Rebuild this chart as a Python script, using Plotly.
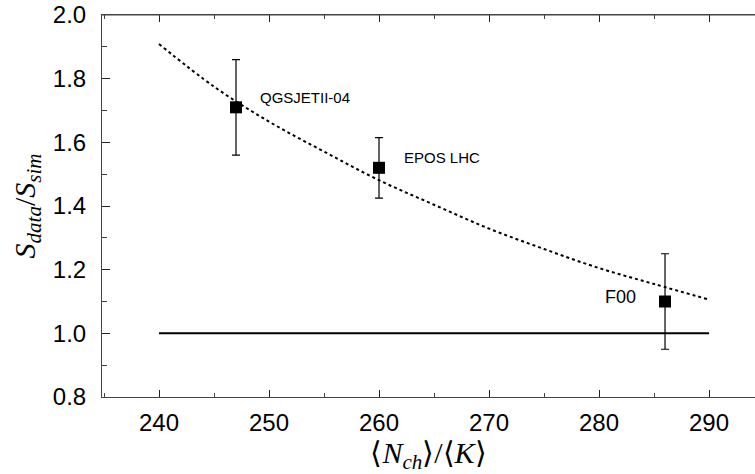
import plotly.graph_objects as go

# Data points
models = ["QGSJETII-04", "EPOS LHC", "F00"]
nch_k = [247, 260, 286]
ratio = [1.71, 1.52, 1.10]
ratio_err = [0.15, 0.095, 0.15]

# Dotted fit curve
curve_x = [240, 245, 250, 255, 260, 265, 270, 275, 280, 285, 290]
curve_y = [1.909, 1.775, 1.665, 1.571, 1.481, 1.404, 1.329, 1.265, 1.205, 1.155, 1.106]

# Reference line
ref_x = [240, 290]
ref_y = [1.0, 1.0]

# Tick values
x_ticks = [240, 250, 260, 270, 280, 290]
y_ticks = [0.8, 1.0, 1.2, 1.4, 1.6, 1.8, 2.0]

# Label positions (data coords)
label_x = [249.0, 262.1, 280.4]
label_y = [1.741, 1.551, 1.114]
label_size = [15, 15, 18]

fig = go.Figure()
fig.add_trace(go.Scatter(x=curve_x, y=curve_y, mode="lines", line_shape="spline",
                         line=dict(color="black", width=2, dash="dot"), showlegend=False))
fig.add_trace(go.Scatter(x=ref_x, y=ref_y, mode="lines", xaxis="x2",
                         line=dict(color="black", width=2), showlegend=False))
fig.add_trace(go.Scatter(x=nch_k, y=ratio, mode="markers",
                         marker=dict(symbol="square", size=12, color="black"),
                         error_y=dict(type="data", array=ratio_err, visible=True,
                                      color="black", thickness=1.2, width=4),
                         showlegend=False))

for t, x, y, s in zip(models, label_x, label_y, label_size):
    fig.add_annotation(x=x, y=y, text=t, showarrow=False, xanchor="left", yanchor="middle",
                       font=dict(family="Liberation Sans", size=s, color="black"))

# top frame line of the plot box
fig.add_shape(type="line", xref="paper", yref="paper", x0=0, x1=1, y0=1, y1=1,
              line=dict(color="#444", width=1.2), layer="above")

axis_common = dict(showgrid=False, zeroline=False, showline=True, linecolor="#444",
                   linewidth=1, ticks="inside", tickcolor="#222", automargin=False,
                   tickfont=dict(family="Liberation Sans", size=24, color="black"))

xrange = [234.818, 294.18]
fig.update_layout(
    xaxis=dict(range=xrange, tickvals=x_ticks, ticklen=7, mirror=False,
               minor=dict(dtick=5, ticks="inside", ticklen=4, tickcolor="#444"),
               ticklabelstandoff=4,
               title=dict(text="⟨<i>N</i><sub><i>ch</i></sub>⟩/⟨<i>K</i>⟩",
                          font=dict(family="Liberation Serif", size=30, color="black"),
                          standoff=10),
               **axis_common),
    xaxis2=dict(range=xrange, matches="x", overlaying="x", side="top", anchor="y",
                tickvals=x_ticks, ticklen=7, showticklabels=False,
                minor=dict(dtick=5, ticks="inside", ticklen=4, tickcolor="#444"),
                **axis_common),
    yaxis=dict(range=[0.8, 2.0], tickvals=y_ticks, tickformat=".1f", ticklen=8, mirror=False,
               minor=dict(dtick=0.1, ticks="inside", ticklen=5, tickcolor="#444"),
               ticklabelstandoff=10,
               title=dict(text="<i>S</i><sub><i>data</i></sub>/<i>S</i><sub><i>sim</i></sub>",
                          font=dict(family="Liberation Serif", size=30, color="black"),
                          standoff=8),
               **axis_common),
    width=755, height=474, margin=dict(l=102, r=0, t=15, b=77),
    paper_bgcolor="white", plot_bgcolor="white")

# remove the default page margin so the figure sits at the window's corner
fig.write_html("out.html", config={"displayModeBar": False},
               post_script="document.body.style.margin='0';document.body.style.overflow='hidden';")
